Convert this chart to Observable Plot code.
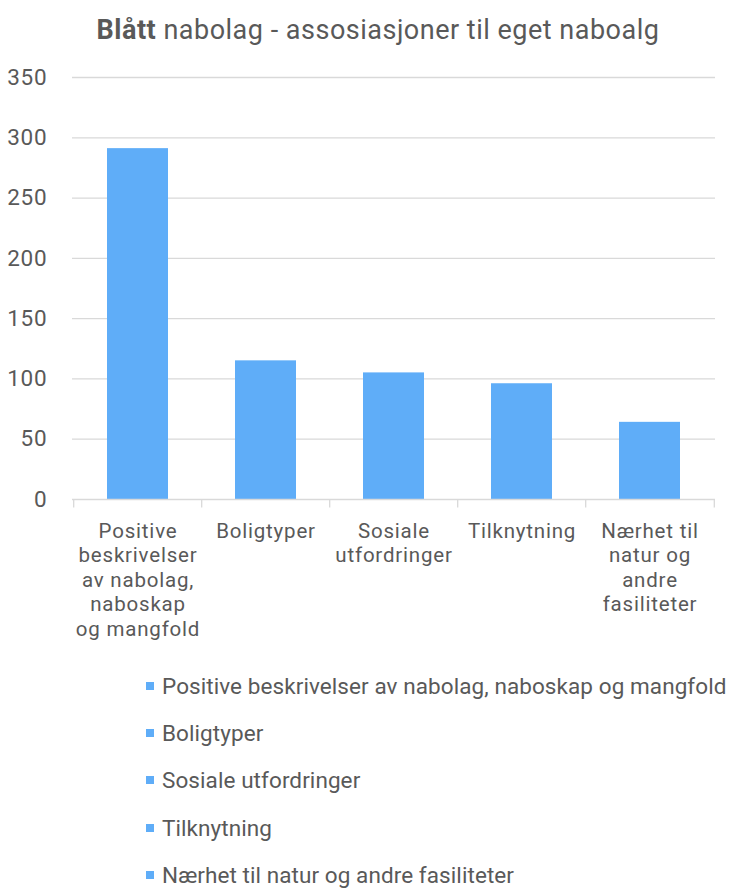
<!DOCTYPE html>
<html>
<head>
<meta charset="utf-8">
<script src="https://cdn.jsdelivr.net/npm/d3@7"></script>
<script src="https://cdn.jsdelivr.net/npm/@observablehq/plot@0.6"></script>
<style>
  html, body { margin: 0; padding: 0; background: #fff; }
  #wrap { position: relative; width: 736px; height: 890px; font-family: Roboto, sans-serif; color: #595959; overflow: hidden; }
  #title { position: absolute; top: 13px; left: 0; width: 736px; padding-left: 20px; box-sizing: border-box; text-align: center; font-size: 27px; letter-spacing: 0.5px; line-height: 34px; color: #595959; white-space: nowrap; }
  #chart { position: absolute; top: 60px; left: 0; }
  #legend { position: absolute; top: 662px; left: 146px; }
  .row { display: flex; align-items: center; height: 47.3px; font-size: 22.5px; letter-spacing: 0.08px; white-space: nowrap; }
  .sw { width: 8px; height: 8px; margin-right: 8px; flex: none; }
</style>
</head>
<body>
<div id="wrap">
  <div id="title"><b>Blått</b> nabolag - assosiasjoner til eget naboalg</div>
  <div id="chart"></div>
  <div id="legend"></div>
</div>
<script>
const categories = [
  "Positive beskrivelser av nabolag, naboskap og mangfold",
  "Boligtyper",
  "Sosiale utfordringer",
  "Tilknytning",
  "Nærhet til natur og andre fasiliteter"
];
const values = [291, 115, 105, 96, 64];
const tickLabels = [
  "Positive\nbeskrivelser\nav nabolag,\nnaboskap\nog mangfold",
  "Boligtyper",
  "Sosiale\nutfordringer",
  "Tilknytning",
  "Nærhet til\nnatur og\nandre\nfasiliteter"
];
const yTicks = [0, 50, 100, 150, 200, 250, 300, 350];

const barColor = "#5FADF8";
const gridColor = "#D9D9D9";
const textColor = "#595959";

const data = categories.map((c, i) => ({category: c, value: values[i]}));

const W = 736, ML = 72, MR = 21;
const step = (W - ML - MR) / categories.length;

const chart = Plot.plot({
  width: W,
  height: 600,
  marginTop: 17,
  marginBottom: 161,
  marginLeft: ML,
  marginRight: MR,
  style: {fontFamily: "Roboto, sans-serif", fontSize: "20.5px", letterSpacing: "0.8px", color: textColor, background: "white", overflow: "visible"},
  x: {domain: categories, paddingInner: 0.524, paddingOuter: 0.262, label: null},
  y: {domain: [0, 350], label: null},
  marks: [
    Plot.ruleY(yTicks.filter(d => d > 0), {stroke: gridColor, strokeWidth: 1.3}),
    Plot.barY(data, {x: "category", y: "value", fill: barColor}),
    Plot.ruleY([0], {stroke: gridColor, strokeWidth: 1.3}),
    Plot.ruleX(categories, {x: d => d, dx: -step / 2, y1: 0, y2: -7, stroke: gridColor, strokeWidth: 1.3}),
    Plot.ruleX([categories[categories.length - 1]], {x: d => d, dx: step / 2, y1: 0, y2: -7, stroke: gridColor, strokeWidth: 1.3}),
    Plot.axisY({ticks: yTicks, tickSize: 0, tickPadding: 25, label: null, fontSize: 22.5, fill: textColor}),
    Plot.axisX({tickSize: 0, tickPadding: 21, label: null, fontSize: 20.5, lineHeight: 1.195, fill: textColor,
      tickFormat: d => tickLabels[categories.indexOf(d)]})
  ]
});
document.getElementById("chart").appendChild(chart);

const legend = document.getElementById("legend");
categories.forEach(c => {
  const row = document.createElement("div");
  row.className = "row";
  const sw = document.createElement("span");
  sw.className = "sw";
  sw.style.background = barColor;
  const t = document.createElement("span");
  t.textContent = c;
  row.appendChild(sw);
  row.appendChild(t);
  legend.appendChild(row);
});
</script>
</body>
</html>
